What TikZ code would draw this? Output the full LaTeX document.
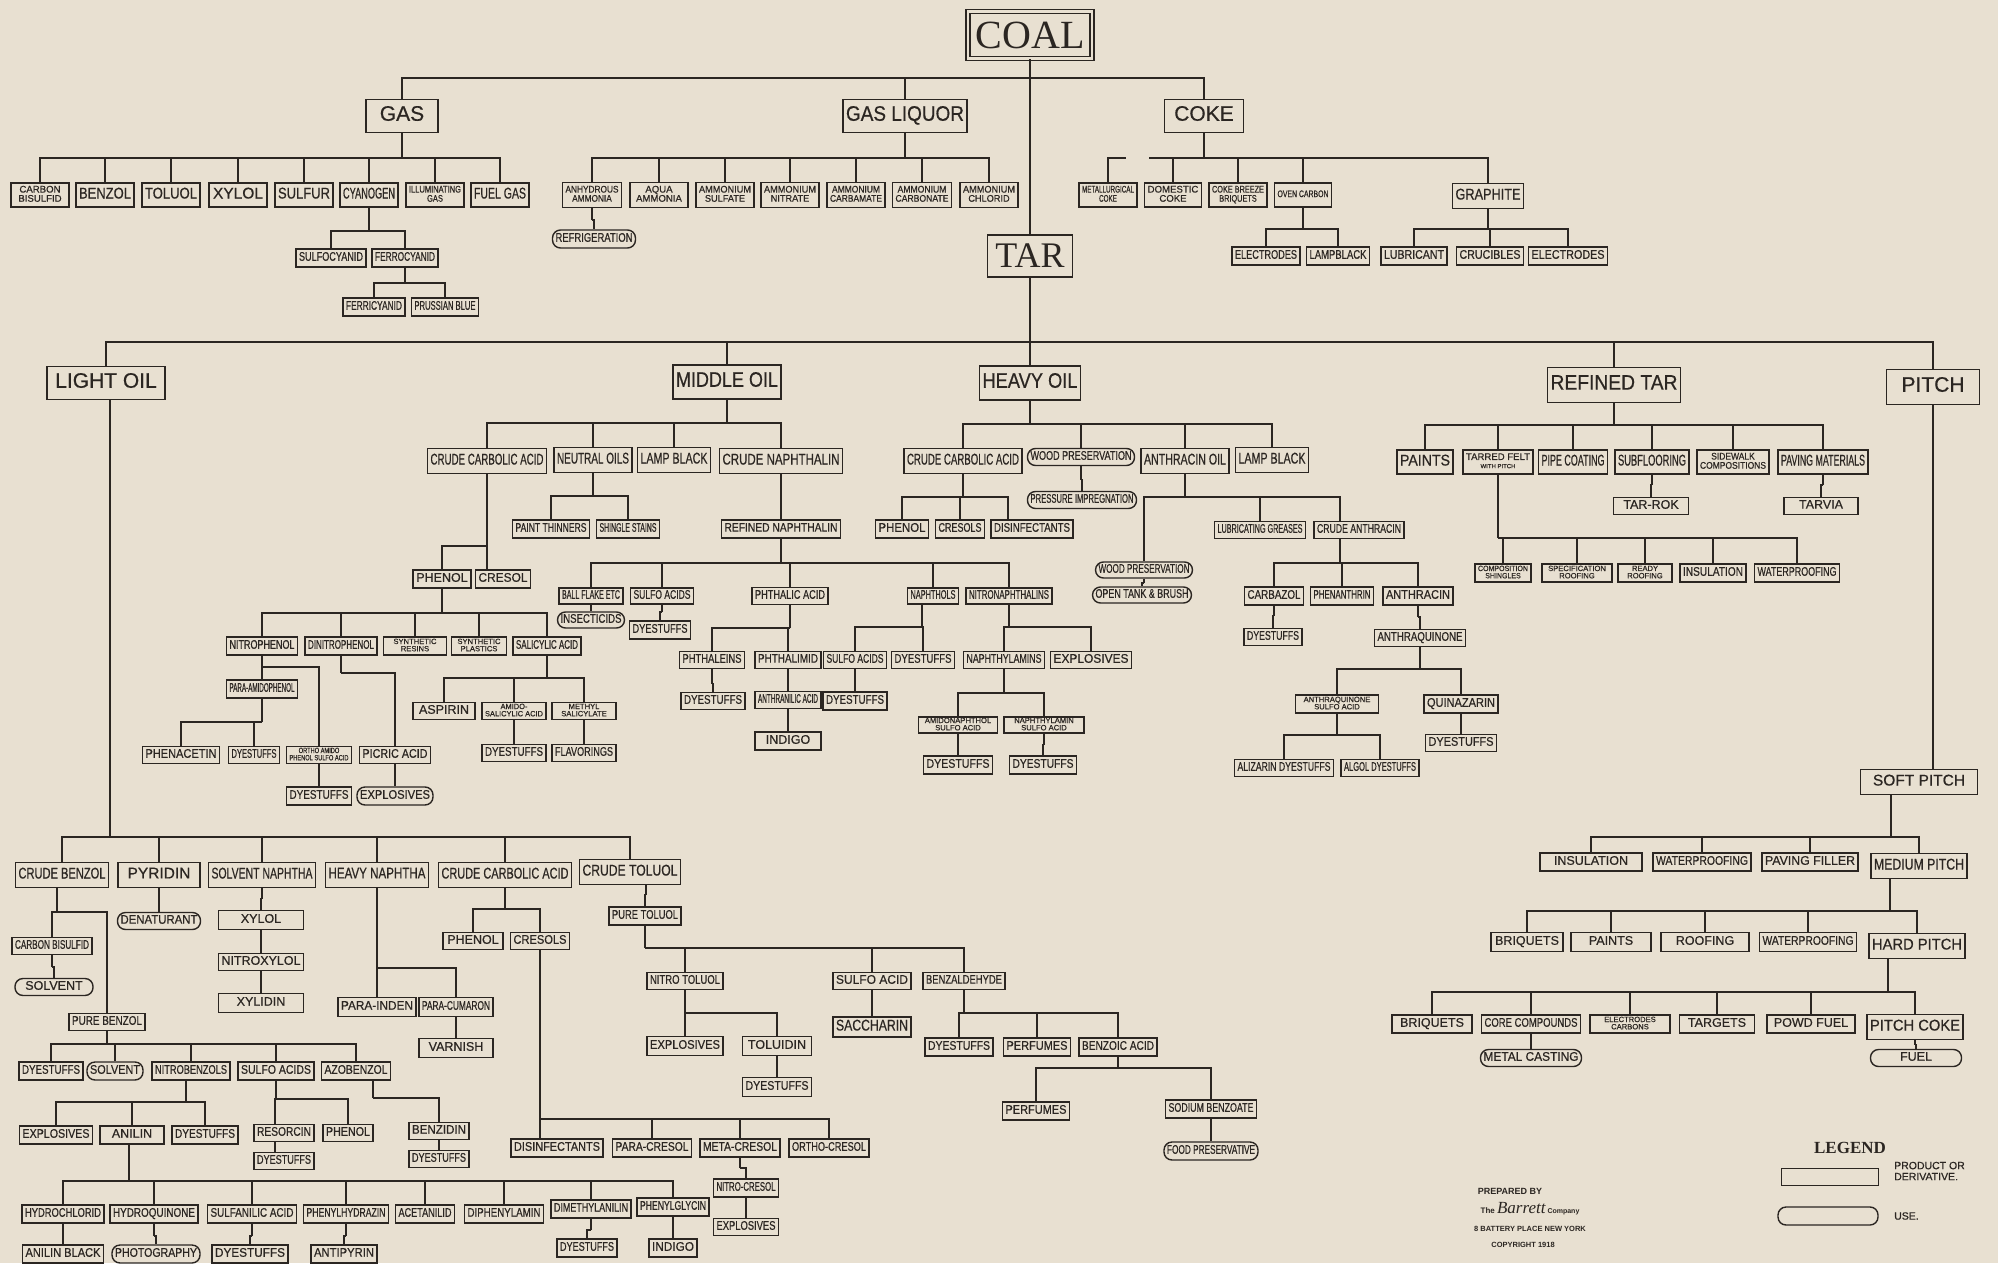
\documentclass[tikz,border=0pt]{standalone}
\usepackage{fontspec}
\usepackage{graphicx}
\setmainfont{Liberation Sans}
\newfontfamily\boxfont{Liberation Sans}[FakeBold=0.6]
\newfontfamily\seriffam{Liberation Serif}
\definecolor{bg}{HTML}{E8E0D1}
\definecolor{ink}{HTML}{2B2622}
\newsavebox\fitbox
\newlength\fitw
\renewcommand\arraystretch{0.82}
\newcommand\fitto[2]{\setlength\fitw{#1}\sbox\fitbox{\begin{tabular}{@{}c@{}}#2\end{tabular}}%
  \ifdim\wd\fitbox>\fitw
    \pgfmathsetmacro\fitr{\the\fitw/\the\wd\fitbox}%
    \scalebox{\fitr}[1]{\usebox\fitbox}%
  \else\usebox\fitbox\fi}
\tikzset{
  prod/.style={draw=ink, line width=1.4pt, rectangle, inner sep=0pt, text=ink, font=\boxfont\fontsize{12.5}{13}\selectfont},
  use/.style={prod, rounded corners=8pt},
  fsm2/.style={font=\boxfont\fontsize{7.6}{8}\selectfont},
  fmd/.style={font=\boxfont\fontsize{15.5}{15.5}\selectfont},
  fmd2/.style={font=\boxfont\fontsize{9.6}{10}\selectfont},
  flg/.style={font=\boxfont\fontsize{21}{21}\selectfont},
  conn/.style={draw=ink, line width=1.6pt},
  lbl/.style={text=ink, inner sep=0pt},
  tip/.style={inner sep=0pt, minimum size=0pt},
}
\newcommand\bx[7][]{\node[prod,#1,minimum width=#5pt,minimum height=#6pt] (#2) at (#3,#4) {\fitto{\dimexpr#5pt-6pt\relax}{#7}};}
\newcommand\tp[3]{\node[tip] (#1) at ([xshift=#3pt]#2.north) {};}
\newcommand\brn[4][0]{\coordinate (brP) at ([xshift=#1pt]#2.south);
  \draw[conn] (brP) -- (brP |- 0,#3);
  \foreach \c in {#4}{\draw[conn] (brP |- 0,#3) -| (\c.north);}}
\begin{document}
\begin{tikzpicture}[x=1pt,y=-1pt]
\fill[bg] (0,0) rectangle (1998,1263);
% ---------- top ----------
\node[prod, double=bg, double distance=2.5pt, line width=1.3pt, minimum width=124pt, minimum height=47pt, font=\seriffam\fontsize{40}{40}\selectfont] (coal) at (1030,35) {COAL};
\bx[flg]{gas}{402}{116}{72}{33}{GAS}
\bx[flg]{gasliq}{905}{116}{124}{33}{GAS LIQUOR}
\bx[flg]{coke}{1204}{116}{79}{33}{COKE}
\node[prod, line width=1.6pt, minimum width=85pt, minimum height=42pt, font=\seriffam\fontsize{36}{36}\selectfont] (tar) at (1030,256) {TAR};
% gas
\bx[fmd2]{cbis}{40}{195}{58}{24}{CARBON\\BISULFID}
\bx[fmd]{benzolG}{105}{195}{58}{24}{BENZOL}
\bx[fmd]{toluolG}{171}{195}{58}{24}{TOLUOL}
\bx[fmd]{xylolG}{238}{195}{58}{24}{XYLOL}
\bx[fmd]{sulfur}{304}{195}{58}{24}{SULFUR}
\bx[fmd]{cyanogen}{369}{195}{58}{24}{CYANOGEN}
\bx[fmd2]{illum}{435}{195}{58}{24}{ILLUMINATING\\GAS}
\bx[fmd]{fuelgas}{500}{195}{58}{24}{FUEL GAS}
\bx{sulfocyanid}{331}{258}{70}{18}{SULFOCYANID}
\bx{ferrocyanid}{405}{258}{66}{18}{FERROCYANID}
\bx{ferricyanid}{374}{307}{62}{18}{FERRICYANID}
\bx{prussian}{445}{307}{67}{18}{PRUSSIAN BLUE}
% gas liquor
\bx[fmd2]{anhyd}{592}{195}{59}{25}{ANHYDROUS\\AMMONIA}
\bx[fmd2]{aqua}{659}{195}{58}{25}{AQUA\\AMMONIA}
\bx[fmd2]{amsulf}{725}{195}{58}{25}{AMMONIUM\\SULFATE}
\bx[fmd2]{amnitr}{790}{195}{58}{25}{AMMONIUM\\NITRATE}
\bx[fmd2]{amcarbam}{856}{195}{58}{25}{AMMONIUM\\CARBAMATE}
\bx[fmd2]{amcarbon}{922}{195}{59}{25}{AMMONIUM\\CARBONATE}
\bx[fmd2]{amchlor}{989}{195}{58}{25}{AMMONIUM\\CHLORID}
\bx[use]{refrig}{594}{239}{83}{18}{REFRIGERATION}
% coke
\bx[fmd2]{met}{1108}{195}{58}{24}{METALLURGICAL\\COKE}
\bx[fmd2]{domestic}{1173}{195}{57}{24}{DOMESTIC\\COKE}
\bx[fmd2]{breeze}{1238}{195}{58}{24}{COKE BREEZE\\BRIQUETS}
\bx[fmd2]{oven}{1303}{195}{57}{24}{OVEN CARBON}
\bx[fmd]{graphite}{1488}{196}{71}{25}{GRAPHITE}
\bx{electrodesO}{1266}{256}{68}{18}{ELECTRODES}
\bx{lampblackO}{1338}{256}{63}{18}{LAMPBLACK}
\bx{lubricant}{1414}{256}{66}{18}{LUBRICANT}
\bx{crucibles}{1490}{256}{67}{18}{CRUCIBLES}
\bx{electrodesG}{1568}{256}{79}{18}{ELECTRODES}
% ---------- level 2 ----------
\bx[flg]{lightoil}{106}{383}{118}{33}{LIGHT OIL}
\bx[flg]{middleoil}{727}{382}{108}{34}{MIDDLE OIL}
\bx[flg]{heavyoil}{1030}{383}{101}{34}{HEAVY OIL}
\bx[flg]{refinedtar}{1614}{385}{133}{35}{REFINED TAR}
\bx[flg]{pitch}{1933}{387}{93}{35}{PITCH}
% ---------- middle oil ----------
\bx[fmd]{ccaM}{487}{461}{119}{25}{CRUDE CARBOLIC ACID}
\bx[fmd]{neutral}{593}{460}{78}{25}{NEUTRAL OILS}
\bx[fmd]{lampM}{674}{460}{73}{25}{LAMP BLACK}
\bx[fmd]{crudenaph}{781}{461}{123}{25}{CRUDE NAPHTHALIN}
\bx{paintthin}{551}{529}{77}{18}{PAINT THINNERS}
\bx{shingle}{628}{529}{63}{18}{SHINGLE STAINS}
\bx{refnaph}{781}{529}{119}{18}{REFINED NAPHTHALIN}
\bx{ballflake}{591}{596}{64}{16}{BALL FLAKE ETC}
\bx{sulfoM}{662}{596}{63}{16}{SULFO ACIDS}
\bx{phthalic}{790}{596}{76}{17}{PHTHALIC ACID}
\bx{naphthols}{933}{596}{51}{16}{NAPHTHOLS}
\bx{nitronaph}{1009}{596}{86}{16}{NITRONAPHTHALINS}
\bx[use]{insecticids}{591}{620}{67}{16}{INSECTICIDS}
\bx{dyesSulfoM}{660}{630}{61}{18}{DYESTUFFS}
\bx{phthaleins}{712}{660}{65}{17}{PHTHALEINS}
\bx{phthalimid}{788}{660}{66}{17}{PHTHALIMID}
\bx{dyesPhth}{713}{701}{64}{17}{DYESTUFFS}
\bx{anthranilic}{788}{700}{66}{17}{ANTHRANILIC ACID}
\bx{indigoM}{788}{741}{66}{18}{INDIGO}
\bx{sulfoN}{855}{660}{63}{17}{SULFO ACIDS}
\bx{dyesN}{923}{660}{63}{17}{DYESTUFFS}
\bx{dyesSulfoN}{855}{701}{64}{18}{DYESTUFFS}
\bx{naphthylamins}{1004}{660}{81}{17}{NAPHTHYLAMINS}
\bx{explosivesN}{1091}{660}{81}{17}{EXPLOSIVES}
\bx[fsm2]{amidonaph}{958}{725}{79}{16}{AMIDONAPHTHOL\\SULFO ACID}
\bx[fsm2]{naphsulfo}{1044}{725}{80}{16}{NAPHTHYLAMIN\\SULFO ACID}
\bx{dyesAN}{958}{765}{69}{18}{DYESTUFFS}
\bx{dyesNS}{1043}{765}{67}{18}{DYESTUFFS}
\bx{phenolM}{442}{579}{58}{18}{PHENOL}
\bx{cresolM}{503}{579}{55}{18}{CRESOL}
\bx{nitrophenol}{262}{646}{71}{18}{NITROPHENOL}
\bx{dinitrophenol}{341}{646}{72}{18}{DINITROPHENOL}
\bx[fsm2]{synres}{415}{646}{63}{18}{SYNTHETIC\\RESINS}
\bx[fsm2]{synplast}{479}{646}{55}{18}{SYNTHETIC\\PLASTICS}
\bx{salicylic}{547}{646}{68}{18}{SALICYLIC ACID}
\bx{paraamido}{262}{689}{71}{18}{PARA-AMIDOPHENOL}
\bx{phenacetin}{181}{755}{77}{17}{PHENACETIN}
\bx{dyesPA}{254}{755}{51}{17}{DYESTUFFS}
\bx[fsm2]{orthoamido}{319}{755}{65}{17}{ORTHO AMIDO\\PHENOL SULFO ACID}
\bx{picric}{395}{755}{71}{17}{PICRIC ACID}
\bx{dyesOA}{319}{796}{65}{18}{DYESTUFFS}
\bx[use]{explosivesP}{395}{796}{76}{18}{EXPLOSIVES}
\bx{aspirin}{444}{711}{62}{17}{ASPIRIN}
\bx[fsm2]{amidosal}{514}{711}{64}{17}{AMIDO-\\SALICYLIC ACID}
\bx[fsm2]{methylsal}{584}{711}{64}{17}{METHYL\\SALICYLATE}
\bx{dyesAS}{514}{753}{64}{17}{DYESTUFFS}
\bx{flavor}{584}{753}{64}{17}{FLAVORINGS}
% ---------- heavy oil ----------
\bx[fmd]{ccaH}{963}{461}{118}{25}{CRUDE CARBOLIC ACID}
\bx[use]{woodpres}{1081}{457}{107}{17}{WOOD PRESERVATION}
\bx[fmd]{anthoil}{1185}{461}{88}{25}{ANTHRACIN OIL}
\bx[fmd]{lampH}{1272}{460}{73}{25}{LAMP BLACK}
\bx[use]{pressimp}{1082}{500}{109}{17}{PRESSURE IMPREGNATION}
\bx{phenolH}{902}{529}{53}{18}{PHENOL}
\bx{cresolsH}{960}{529}{49}{18}{CRESOLS}
\bx{disinfH}{1032}{529}{82}{18}{DISINFECTANTS}
\bx[use]{woodpres2}{1144}{570}{97}{16}{WOOD PRESERVATION}
\bx[use]{opentank}{1142}{595}{99}{16}{OPEN TANK \& BRUSH}
\bx{lubgrease}{1260}{530}{91}{17}{LUBRICATING GREASES}
\bx{crudeanth}{1359}{530}{90}{17}{CRUDE ANTHRACIN}
\bx{carbazol}{1274}{596}{59}{18}{CARBAZOL}
\bx{phenanthrin}{1342}{596}{63}{18}{PHENANTHRIN}
\bx{anthracin}{1418}{596}{70}{18}{ANTHRACIN}
\bx{dyesCarb}{1273}{637}{58}{17}{DYESTUFFS}
\bx{anthraq}{1420}{638}{91}{17}{ANTHRAQUINONE}
\bx[fsm2]{anthraqsulfo}{1337}{704}{83}{18}{ANTHRAQUINONE\\SULFO ACID}
\bx{quinazarin}{1461}{704}{74}{18}{QUINAZARIN}
\bx{alizarin}{1284}{768}{99}{17}{ALIZARIN DYESTUFFS}
\bx{algol}{1380}{768}{78}{17}{ALGOL DYESTUFFS}
\bx{dyesQ}{1461}{743}{71}{17}{DYESTUFFS}
% ---------- refined tar ----------
\bx[fmd]{paintsR}{1425}{462}{56}{24}{PAINTS}
\bx[fmd2]{tarred}{1498}{462}{70}{24}{TARRED FELT\\{\fontsize{6}{6}\selectfont WITH PITCH}}
\bx[fmd]{pipe}{1573}{462}{69}{24}{PIPE COATING}
\bx[fmd]{subfl}{1652}{462}{74}{24}{SUBFLOORING}
\bx[fmd2]{sidewalk}{1733}{462}{72}{24}{SIDEWALK\\COMPOSITIONS}
\bx[fmd]{paving}{1823}{462}{90}{24}{PAVING MATERIALS}
\bx{tarrok}{1651}{506}{75}{17}{TAR-ROK}
\bx{tarvia}{1821}{506}{74}{17}{TARVIA}
\bx[fsm2]{compshing}{1503}{573}{56}{18}{COMPOSITION\\SHINGLES}
\bx[fsm2]{specroof}{1577}{573}{70}{18}{SPECIFICATION\\ROOFING}
\bx[fsm2]{readyroof}{1645}{573}{54}{18}{READY\\ROOFING}
\bx{insulR}{1713}{573}{66}{18}{INSULATION}
\bx{waterR}{1797}{573}{85}{18}{WATERPROOFING}
% ---------- pitch ----------
\bx[fmd]{softpitch}{1919}{782}{117}{25}{SOFT PITCH}
\bx{insulP}{1591}{862}{102}{18}{INSULATION}
\bx{waterP}{1702}{862}{98}{18}{WATERPROOFING}
\bx{pavfill}{1810}{862}{96}{18}{PAVING FILLER}
\bx[fmd]{medpitch}{1919}{866}{96}{25}{MEDIUM PITCH}
\bx{briqM}{1527}{942}{72}{19}{BRIQUETS}
\bx{paintsP}{1611}{942}{80}{19}{PAINTS}
\bx{roofing}{1705}{942}{88}{19}{ROOFING}
\bx{waterP2}{1808}{942}{97}{19}{WATERPROOFING}
\bx[fmd]{hardpitch}{1917}{946}{96}{25}{HARD PITCH}
\bx{briqH}{1432}{1024}{80}{18}{BRIQUETS}
\bx{corecomp}{1531}{1024}{99}{18}{CORE COMPOUNDS}
\bx[fsm2]{electcarb}{1630}{1024}{80}{18}{ELECTRODES\\CARBONS}
\bx{targets}{1717}{1024}{75}{18}{TARGETS}
\bx{powd}{1811}{1024}{88}{18}{POWD FUEL}
\bx[fmd]{pitchcoke}{1915}{1027}{96}{25}{PITCH COKE}
\bx[use]{metalcast}{1531}{1058}{101}{17}{METAL CASTING}
\bx[use]{fuel}{1916}{1058}{91}{17}{FUEL}
% ---------- light oil ----------
\bx[fmd]{crudebenzol}{62}{875}{93}{25}{CRUDE BENZOL}
\bx[fmd]{pyridin}{159}{875}{82}{25}{PYRIDIN}
\bx[fmd]{solvnaph}{262}{875}{107}{25}{SOLVENT NAPHTHA}
\bx[fmd]{heavynaph}{377}{875}{103}{25}{HEAVY NAPHTHA}
\bx[fmd]{ccaL}{505}{875}{133}{25}{CRUDE CARBOLIC ACID}
\bx[fmd]{crudetoluol}{630}{872}{101}{25}{CRUDE TOLUOL}
\bx{cbisL}{52}{946}{80}{17}{CARBON BISULFID}
\bx[use]{solventL}{54}{987}{78}{17}{SOLVENT}
\bx{purebenzol}{107}{1022}{76}{17}{PURE BENZOL}
\bx[use]{denat}{159}{921}{83}{17}{DENATURANT}
\bx{xylolL}{261}{920}{85}{19}{XYLOL}
\bx{nitroxylol}{261}{962}{85}{17}{NITROXYLOL}
\bx{xylidin}{261}{1003}{85}{19}{XYLIDIN}
\bx{parainden}{377}{1007}{78}{19}{PARA-INDEN}
\bx{paracum}{456}{1007}{74}{19}{PARA-CUMARON}
\bx{varnish}{456}{1048}{74}{19}{VARNISH}
\bx{phenolL}{473}{941}{60}{17}{PHENOL}
\bx{cresolsL}{540}{941}{59}{17}{CRESOLS}
\bx{disinfL}{557}{1148}{92}{18}{DISINFECTANTS}
\bx{paracresol}{652}{1148}{79}{18}{PARA-CRESOL}
\bx{metacresol}{740}{1148}{80}{18}{META-CRESOL}
\bx{orthocresol}{829}{1148}{80}{18}{ORTHO-CRESOL}
\bx{nitrocresol}{746}{1188}{65}{18}{NITRO-CRESOL}
\bx{explosivesC}{746}{1227}{65}{17}{EXPLOSIVES}
\bx{dyesPB}{51}{1071}{64}{18}{DYESTUFFS}
\bx[use]{solventPB}{115}{1071}{56}{18}{SOLVENT}
\bx{nitrobenzols}{191}{1071}{78}{18}{NITROBENZOLS}
\bx{sulfoPB}{276}{1071}{76}{18}{SULFO ACIDS}
\bx{azobenzol}{356}{1071}{69}{18}{AZOBENZOL}
\bx{explosivesNB}{56}{1135}{73}{18}{EXPLOSIVES}
\bx{anilin}{132}{1135}{64}{18}{ANILIN}
\bx{dyesNB}{205}{1135}{66}{18}{DYESTUFFS}
\bx{resorcin}{284}{1133}{60}{17}{RESORCIN}
\bx{phenolPB}{348}{1133}{50}{17}{PHENOL}
\bx{dyesRes}{284}{1161}{60}{17}{DYESTUFFS}
\bx{benzidin}{439}{1131}{60}{17}{BENZIDIN}
\bx{dyesBz}{439}{1159}{60}{17}{DYESTUFFS}
\bx{hydrochlorid}{63}{1214}{82}{18}{HYDROCHLORID}
\bx{hydroquinone}{154}{1214}{88}{18}{HYDROQUINONE}
\bx{sulfanilic}{252}{1214}{89}{18}{SULFANILIC ACID}
\bx{phenylhydrazin}{346}{1214}{85}{18}{PHENYLHYDRAZIN}
\bx{acetanilid}{425}{1214}{59}{18}{ACETANILID}
\bx{diphenylamin}{504}{1214}{79}{18}{DIPHENYLAMIN}
\bx{dimethylanilin}{591}{1209}{80}{18}{DIMETHYLANILIN}
\bx{phenylglycin}{673}{1207}{72}{18}{PHENYLGLYCIN}
\bx{anilinblack}{63}{1254}{81}{18}{ANILIN BLACK}
\bx[use]{photography}{156}{1254}{88}{18}{PHOTOGRAPHY}
\bx{dyesSA}{250}{1254}{76}{18}{DYESTUFFS}
\bx{antipyrin}{344}{1254}{66}{18}{ANTIPYRIN}
\bx{dyesDM}{587}{1248}{60}{18}{DYESTUFFS}
\bx{indigoPG}{673}{1248}{48}{18}{INDIGO}
\bx{puretoluol}{645}{916}{72}{18}{PURE TOLUOL}
\bx{nitrotoluol}{685}{981}{76}{17}{NITRO TOLUOL}
\bx{sulfoT}{872}{981}{78}{17}{SULFO ACID}
\bx{benzaldehyde}{964}{981}{82}{17}{BENZALDEHYDE}
\bx{explosivesT}{685}{1046}{76}{19}{EXPLOSIVES}
\bx{toluidin}{777}{1046}{69}{19}{TOLUIDIN}
\bx{dyesTol}{777}{1087}{69}{19}{DYESTUFFS}
\bx[fmd]{saccharin}{872}{1027}{78}{20}{SACCHARIN}
\bx{dyesBA}{959}{1047}{68}{18}{DYESTUFFS}
\bx{perfumesBA}{1037}{1047}{67}{18}{PERFUMES}
\bx{benzoic}{1118}{1047}{78}{18}{BENZOIC ACID}
\bx{perfumesB2}{1036}{1111}{67}{18}{PERFUMES}
\bx{sodiumbenz}{1211}{1109}{91}{18}{SODIUM BENZOATE}
\bx[use]{foodpres}{1211}{1151}{94}{18}{FOOD PRESERVATIVE}
% connection points that sit off the box centre
\tp{disinfHtop}{disinfH}{-24}
\tp{crudeanthtop}{crudeanth}{-19}
\tp{cresolMtop}{cresolM}{-16}
\tp{disinfLtop}{disinfL}{-17}
\tp{resorcintop}{resorcin}{-9}
\tp{dyesRestop}{dyesRes}{-9}
% ---------- legend & credits ----------
\node[lbl, font=\seriffam\bfseries\fontsize{17}{17}\selectfont] (legT) at (1850,1148) {LEGEND};
\node[prod, minimum width=97pt, minimum height=17pt] (legP) at (1830,1177) {};
\node[use, minimum width=100pt, minimum height=18pt] (legU) at (1828,1216) {};
\node[lbl, anchor=west, align=left, font=\boxfont\fontsize{10.5}{11}\selectfont] (legPT) at (1894,1171) {PRODUCT OR\\DERIVATIVE.};
\node[lbl, anchor=west, font=\boxfont\fontsize{10.5}{11}\selectfont] (legUT) at (1894,1216) {USE.};
\node[lbl, font=\bfseries\fontsize{9}{9}\selectfont] (prep) at (1510,1191) {PREPARED BY};
\node[lbl] (barrett) at (1530,1209) {{\fontsize{8}{8}\selectfont\bfseries The }{\seriffam\itshape\fontsize{17}{17}\selectfont Barrett}{\fontsize{7}{7}\selectfont\bfseries\ Company}};
\node[lbl, font=\bfseries\fontsize{7.5}{7.5}\selectfont] (addr) at (1530,1229) {8 BATTERY PLACE NEW YORK};
\node[lbl, font=\bfseries\fontsize{7.5}{7.5}\selectfont] (copyr) at (1523,1245) {COPYRIGHT 1918};
% ---------- connectors ----------
\begin{scope}[conn/.style={draw=ink,line width=2.7pt}]
\brn{coal}{78}{gas,gasliq,coke,tar}
\brn{tar}{342}{lightoil,middleoil,heavyoil,refinedtar,pitch}
\end{scope}
\begin{scope}[conn/.style={draw=ink,line width=2.1pt}]
\brn{gas}{158}{cbis,benzolG,toluolG,xylolG,sulfur,cyanogen,illum,fuelgas}
\brn{gasliq}{158}{anhyd,aqua,amsulf,amnitr,amcarbam,amcarbon,amchlor}
\brn{coke}{158}{domestic,breeze,oven,graphite}
\coordinate (cokeA) at (1126,158);
\coordinate (cokeB) at (1149,158);
\draw[conn] (met.north) |- (cokeA);
\draw[conn] (cokeB) -- (domestic.north |- cokeB);
\brn[4]{lightoil}{837}{crudebenzol,pyridin,solvnaph,heavynaph,ccaL,crudetoluol}
\draw[conn] (pitch.south) -- (pitch.south |- softpitch.north);
\end{scope}
\brn{cyanogen}{231}{sulfocyanid,ferrocyanid}
\brn{ferrocyanid}{283}{ferricyanid,prussian}
\brn{anhyd}{220}{refrig}
\brn{oven}{229}{electrodesO,lampblackO}
\brn{graphite}{229}{lubricant,crucibles,electrodesG}
% middle oil
\brn{middleoil}{423}{ccaM,neutral,lampM,crudenaph}
\brn{neutral}{496}{paintthin,shingle}
\brn{crudenaph}{500}{refnaph}
\brn{refnaph}{563}{ballflake,sulfoM,phthalic,naphthols,nitronaph}
\brn{ballflake}{608}{insecticids}
\brn{sulfoM}{612}{dyesSulfoM}
\brn{phthalic}{628}{phthaleins,phthalimid}
\brn{phthaleins}{684}{dyesPhth}
\brn{phthalimid}{684}{anthranilic}
\brn{anthranilic}{724}{indigoM}
\brn[-11]{naphthols}{627}{sulfoN,dyesN}
\brn{sulfoN}{684}{dyesSulfoN}
\brn{nitronaph}{627}{naphthylamins,explosivesN}
\brn{naphthylamins}{693}{amidonaph,naphsulfo}
\brn{amidonaph}{745}{dyesAN}
\brn{naphsulfo}{745}{dyesNS}
\brn{ccaM}{546}{phenolM,cresolMtop}
\brn{phenolM}{613}{nitrophenol,dinitrophenol,synres,synplast,salicylic}
\brn{nitrophenol}{667}{paraamido,orthoamido}
\brn{paraamido}{722}{phenacetin,dyesPA}
\brn{dinitrophenol}{673}{picric}
\brn{orthoamido}{775}{dyesOA}
\brn{picric}{775}{explosivesP}
\brn{salicylic}{678}{aspirin,amidosal,methylsal}
\brn{amidosal}{735}{dyesAS}
\brn{methylsal}{735}{flavor}
% heavy oil
\brn{heavyoil}{424}{ccaH,woodpres,anthoil,lampH}
\brn{woodpres}{480}{pressimp}
\brn{ccaH}{497}{phenolH,cresolsH,disinfHtop}
\brn{anthoil}{497}{woodpres2,lubgrease,crudeanthtop}
\brn{woodpres2}{583}{opentank}
\brn[-19]{crudeanth}{563}{carbazol,phenanthrin,anthracin}
\brn{carbazol}{616}{dyesCarb}
\brn{anthracin}{617}{anthraq}
\brn{anthraq}{669}{anthraqsulfo,quinazarin}
\brn{anthraqsulfo}{735}{alizarin,algol}
\brn{quinazarin}{724}{dyesQ}
% refined tar
\brn{refinedtar}{425}{paintsR,tarred,pipe,subfl,sidewalk,paving}
\brn{subfl}{485}{tarrok}
\brn{paving}{485}{tarvia}
\brn{tarred}{538}{compshing,specroof,readyroof,insulR,waterR}
% pitch
\brn[-28]{softpitch}{837}{insulP,waterP,pavfill,medpitch}
\brn[-29]{medpitch}{911}{briqM,paintsP,roofing,waterP2,hardpitch}
\brn[-29]{hardpitch}{992}{briqH,corecomp,electcarb,targets,powd,pitchcoke}
\brn{corecomp}{1041}{metalcast}
\brn{pitchcoke}{1045}{fuel}
% light oil
\brn[-5]{crudebenzol}{912}{cbisL,purebenzol}
\brn{cbisL}{967}{solventL}
\brn{pyridin}{900}{denat}
\brn{solvnaph}{899}{xylolL}
\brn{xylolL}{941}{nitroxylol}
\brn{nitroxylol}{982}{xylidin}
\brn{heavynaph}{968}{parainden,paracum}
\brn{paracum}{1027}{varnish}
\brn{ccaL}{909}{phenolL,cresolsL}
\brn{cresolsL}{1119}{disinfLtop,paracresol,metacresol,orthocresol}
\brn{metacresol}{1168}{nitrocresol}
\brn{nitrocresol}{1208}{explosivesC}
\brn{purebenzol}{1044}{dyesPB,solventPB,nitrobenzols,sulfoPB,azobenzol}
\brn[-5]{nitrobenzols}{1102}{explosivesNB,anilin,dyesNB}
\brn{sulfoPB}{1099}{resorcintop,phenolPB}
\brn[-9]{resorcin}{1147}{dyesRestop}
\brn[17]{azobenzol}{1098}{benzidin}
\brn{benzidin}{1145}{dyesBz}
\brn[-3]{anilin}{1181}{hydrochlorid,hydroquinone,sulfanilic,phenylhydrazin,acetanilid,diphenylamin,dimethylanilin,phenylglycin}
\brn{hydrochlorid}{1236}{anilinblack}
\brn{hydroquinone}{1236}{photography}
\brn{sulfanilic}{1236}{dyesSA}
\brn{phenylhydrazin}{1236}{antipyrin}
\brn{dimethylanilin}{1230}{dyesDM}
\brn{phenylglycin}{1230}{indigoPG}
\brn[16]{crudetoluol}{895}{puretoluol}
\brn{puretoluol}{948}{nitrotoluol,sulfoT,benzaldehyde}
\brn{nitrotoluol}{1013}{explosivesT,toluidin}
\brn{toluidin}{1067}{dyesTol}
\brn{sulfoT}{1004}{saccharin}
\brn{benzaldehyde}{1013}{dyesBA,perfumesBA,benzoic}
\brn{benzoic}{1068}{perfumesB2,sodiumbenz}
\brn{sodiumbenz}{1130}{foodpres}
\end{tikzpicture}
\end{document}
